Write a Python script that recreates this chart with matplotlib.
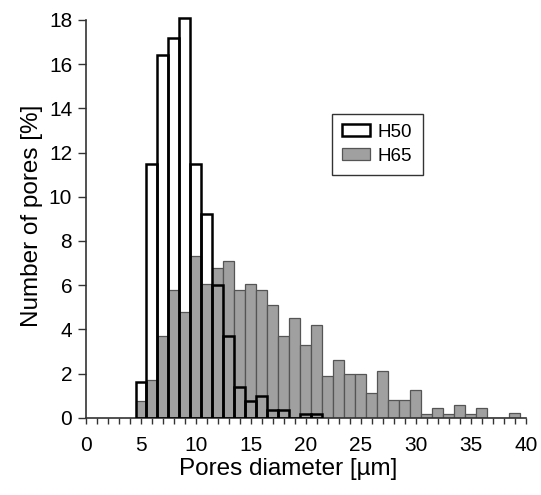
import matplotlib
matplotlib.use("Agg")
import matplotlib.pyplot as plt
import numpy as np
from matplotlib.patches import Patch

plt.rcParams["font.family"] = ["Liberation Sans", "DejaVu Sans"]

# bin centres (pore diameter, µm) and percentages
bins_h50 = np.arange(5, 22)
h50 = [1.6, 11.5, 16.4, 17.2, 18.1, 11.5, 9.2, 6.0, 3.7, 1.4, 0.75,
       1.0, 0.35, 0.35, 0.0, 0.15, 0.15]

bins_h65 = np.arange(5, 40)
h65 = [0.75, 1.7, 3.7, 5.8, 4.8, 7.3, 6.05, 6.8, 7.1, 5.8, 6.05,
       5.8, 5.1, 3.7, 4.5, 3.3, 4.2, 1.9, 2.6, 2.0, 2.0, 1.1, 2.1,
       0.8, 0.8, 1.25, 0.15, 0.45, 0.15, 0.6, 0.15, 0.45, 0.0, 0.0, 0.2]

series_names = ["H50", "H65"]

fig = plt.figure(figsize=(5.41, 4.95), dpi=100)
# y range goes a little past 18 so the tallest bar is not cut off
ax = fig.add_axes((0.159, 0.156, 0.813, 0.817))

ax.bar(bins_h65, h65, width=1.0, color="#a0a0a0", edgecolor="#555555",
       linewidth=0.9, zorder=2)
ax.bar(bins_h50, h50, width=1.0, facecolor="none", edgecolor="black",
       linewidth=1.8, zorder=3)

ax.set_xlim(0, 40)
ax.set_ylim(0, 18.3)
ax.set_xticks(np.arange(0, 41, 5))
ax.set_xticks(np.arange(0, 41, 1), minor=True)
ax.set_yticks(np.arange(0, 19, 2))

for s in ["top", "right"]:
    ax.spines[s].set_visible(False)
for s in ["left", "bottom"]:
    ax.spines[s].set_linewidth(1.2)
    ax.spines[s].set_color("#333333")
ax.spines["left"].set_bounds(0, 18)

ax.tick_params(axis="x", which="both", direction="out", length=4,
               width=1.0, colors="#333333", labelsize=15, pad=9,
               labelcolor="black")
ax.tick_params(axis="y", direction="out", length=6, width=1.0,
               colors="#333333", labelsize=15, pad=4, labelcolor="black")

ax.set_xlabel("Pores diameter [µm]", fontsize=17.5, labelpad=3)
ax.xaxis.set_label_coords(0.459, -0.1)
ax.xaxis.label.set_verticalalignment("top")
ax.set_ylabel("Number of pores [%]", fontsize=17.5, labelpad=4)

handles = [Patch(facecolor="white", edgecolor="black", linewidth=1.8),
           Patch(facecolor="#a0a0a0", edgecolor="#555555", linewidth=0.9)]
leg = ax.legend(handles, series_names, loc="upper left",
                bbox_to_anchor=(0.559, 0.752), fontsize=13.5, frameon=True,
                fancybox=False, handlelength=1.5, handleheight=0.6,
                handletextpad=0.4, borderpad=0.55, labelspacing=0.35,
                borderaxespad=0)
leg.get_frame().set_edgecolor("black")
leg.get_frame().set_linewidth(1.0)

plt.savefig("out.png", dpi=100)
